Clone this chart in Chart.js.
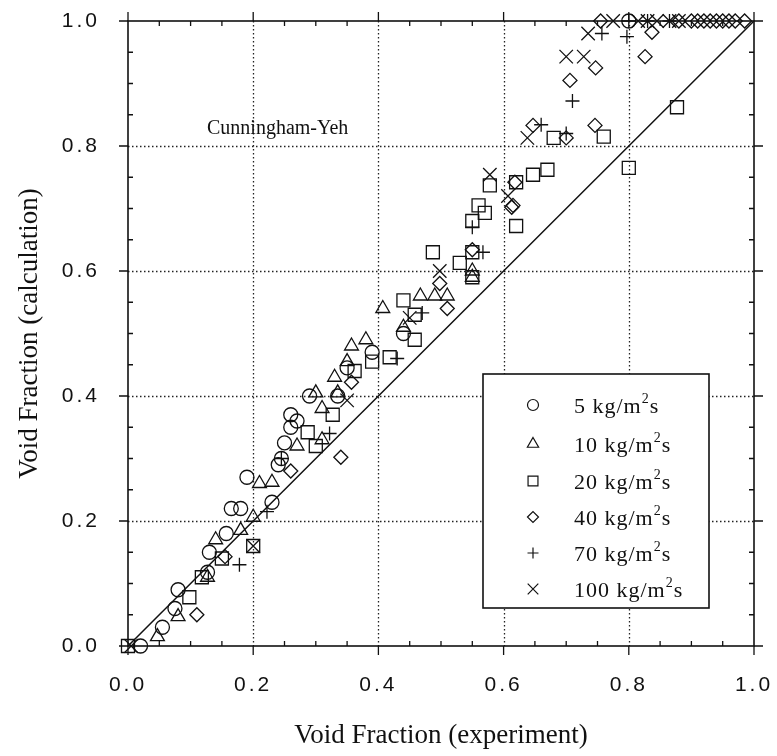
<!DOCTYPE html>
<html>
<head>
<meta charset="utf-8">
<script src="https://cdn.jsdelivr.net/npm/chart.js@4.4.0/dist/chart.umd.min.js"></script>
<style>
  html, body { margin: 0; padding: 0; background: #fff; }
</style>
</head>
<body>
<canvas id="voidChart" width="777" height="756"></canvas>
<script>
// measured vs. calculated void fraction, one list of [experiment, calculation] per mass flux
const flux5 = [[0.02,0.0],[0.055,0.03],[0.075,0.06],[0.08,0.09],[0.127,0.118],[0.13,0.15],[0.157,0.18],
  [0.165,0.22],[0.18,0.22],[0.19,0.27],[0.23,0.23],[0.24,0.29],[0.245,0.30],[0.25,0.325],[0.26,0.35],
  [0.26,0.37],[0.27,0.36],[0.29,0.40],[0.335,0.40],[0.35,0.445],[0.39,0.47],[0.44,0.50],[0.80,1.0]];
const flux10 = [[0.047,0.015],[0.08,0.047],[0.127,0.11],[0.14,0.17],[0.18,0.185],[0.20,0.206],[0.21,0.26],
  [0.23,0.262],[0.27,0.32],[0.30,0.405],[0.31,0.38],[0.31,0.33],[0.33,0.43],[0.335,0.405],[0.35,0.455],
  [0.357,0.48],[0.38,0.49],[0.407,0.54],[0.44,0.51],[0.467,0.56],[0.49,0.56],[0.51,0.56],[0.55,0.59],[0.55,0.60]];
const flux20 = [[0.0,0.0],[0.098,0.078],[0.118,0.11],[0.15,0.14],[0.20,0.16],[0.287,0.342],[0.30,0.32],
  [0.327,0.37],[0.362,0.44],[0.39,0.455],[0.418,0.462],[0.44,0.553],[0.458,0.53],[0.458,0.49],[0.487,0.63],
  [0.53,0.613],[0.55,0.59],[0.55,0.63],[0.55,0.68],[0.56,0.705],[0.57,0.693],[0.578,0.737],[0.62,0.672],
  [0.62,0.742],[0.647,0.754],[0.67,0.762],[0.68,0.813],[0.76,0.815],[0.80,0.765],[0.877,0.862]];
const flux40 = [[0.11,0.05],[0.155,0.143],[0.26,0.28],[0.34,0.302],[0.357,0.422],[0.498,0.58],[0.51,0.54],
  [0.55,0.634],[0.615,0.705],[0.613,0.702],[0.618,0.742],[0.647,0.833],[0.70,0.813],[0.706,0.905],
  [0.746,0.833],[0.747,0.925],[0.755,1.0],[0.826,0.943],[0.837,0.982],[0.88,1.0],[0.90,1.0],[0.91,1.0],
  [0.92,1.0],[0.93,1.0],[0.94,1.0],[0.95,1.0],[0.96,1.0],[0.97,1.0],[0.985,1.0]];
const flux70 = [[0.178,0.13],[0.222,0.215],[0.245,0.30],[0.322,0.34],[0.43,0.46],[0.47,0.533],[0.55,0.67],
  [0.567,0.63],[0.66,0.834],[0.70,0.82],[0.71,0.872],[0.757,0.98],[0.797,0.975],[0.80,1.0],[0.83,1.0],[0.865,1.0]];
const flux100 = [[0.005,0.0],[0.20,0.16],[0.35,0.393],[0.45,0.525],[0.498,0.60],[0.578,0.754],[0.607,0.72],
  [0.638,0.813],[0.70,0.943],[0.728,0.943],[0.735,0.98],[0.775,1.0],[0.815,1.0],[0.83,1.0],[0.845,1.0],
  [0.865,1.0],[0.88,1.0]];

const fluxLabels = ['5', '10', '20', '40', '70', '100'];
const parityLine = [[0, 0], [1, 1]];
const gridValues = [0.2, 0.4, 0.6, 0.8];

const seriesData = [flux5, flux10, flux20, flux40, flux70, flux100];
const markerStyles = ['circle', 'triangle', 'rect', 'rectRot', 'cross', 'crossRot'];
const markerSizes = [7, 8, 9.2, 7, 7, 9.5];
const legendSizes = [5.5, 6.5, 7, 5.5, 5.5, 7.5];

const ink = '#111';

const toPoints = arr => arr.map(p => ({ x: p[0], y: p[1] }));

const datasets = seriesData.map((arr, i) => ({
    type: 'scatter',
    label: fluxLabels[i] + ' kg/m2s',
    data: toPoints(arr),
    pointStyle: markerStyles[i],
    pointRadius: markerSizes[i],
    pointHoverRadius: markerSizes[i],
    pointBackgroundColor: 'rgba(0,0,0,0)',
    pointBorderColor: ink,
    pointBorderWidth: 1.3,
    clip: false
}));

datasets.unshift({
    type: 'line',
    label: 'y = x',
    data: toPoints(parityLine),
    borderColor: ink,
    borderWidth: 1.5,
    pointRadius: 0,
    fill: false,
    clip: false
});

// dotted grid, box frame and tick marks
const framePlugin = {
    id: 'frame',
    beforeDraw(chart) {
        chart.ctx.letterSpacing = '3px';
    },
    beforeDatasetsDraw(chart) {
        const ctx = chart.ctx;
        ctx.letterSpacing = '0px';
        const { left, right, top, bottom } = chart.chartArea;
        const xs = chart.scales.x, ys = chart.scales.y;
        ctx.save();
        ctx.strokeStyle = '#222';
        ctx.lineWidth = 1.3;
        ctx.setLineDash([1.5, 2.5]);
        gridValues.forEach(v => {
            const px = Math.round(xs.getPixelForValue(v)) + 0.5;
            const py = Math.round(ys.getPixelForValue(v)) + 0.5;
            ctx.beginPath();
            ctx.moveTo(px, top); ctx.lineTo(px, bottom);
            ctx.moveTo(left, py); ctx.lineTo(right, py);
            ctx.stroke();
        });
        ctx.setLineDash([]);
        ctx.strokeStyle = ink;
        ctx.lineWidth = 1.6;
        ctx.strokeRect(left, top, right - left, bottom - top);
        ctx.lineWidth = 1.3;
        ctx.beginPath();
        for (let i = 0; i <= 20; i++) {
            const v = i * 0.05;
            const px = xs.getPixelForValue(v), py = ys.getPixelForValue(v);
            if (i % 4 === 0) {
                const t = 9;
                ctx.moveTo(px, bottom); ctx.lineTo(px, bottom + t);
                ctx.moveTo(px, top); ctx.lineTo(px, top - t);
                ctx.moveTo(left, py); ctx.lineTo(left - t, py);
                ctx.moveTo(right, py); ctx.lineTo(right + t, py);
            } else {
                const t = 5;
                ctx.moveTo(px, bottom); ctx.lineTo(px, bottom - t);
                ctx.moveTo(px, top); ctx.lineTo(px, top + t);
                ctx.moveTo(left, py); ctx.lineTo(left + t, py);
                ctx.moveTo(right, py); ctx.lineTo(right - t, py);
            }
        }
        ctx.stroke();
        ctx.restore();
    },
    afterDatasetsDraw(chart) {
        const ctx = chart.ctx;
        const { left, right, top, bottom } = chart.chartArea;
        ctx.save();
        ctx.fillStyle = ink;

        // axis titles
        ctx.font = '27px "Liberation Serif", serif';
        ctx.textAlign = 'center';
        ctx.textBaseline = 'alphabetic';
        ctx.fillText('Void Fraction (experiment)', (left + right) / 2, 743);
        ctx.save();
        ctx.translate(37, (top + bottom) / 2);
        ctx.rotate(-Math.PI / 2);
        ctx.fillText('Void Fraction (calculation)', 0, 0);
        ctx.restore();

        // correlation name
        ctx.textAlign = 'left';
        ctx.font = '20px "Liberation Serif", serif';
        ctx.fillText('Cunningham-Yeh', 207, 134);

        // legend box
        const bx = 483, by = 374, bw = 226, bh = 234;
        ctx.fillStyle = '#fff';
        ctx.fillRect(bx, by, bw, bh);
        ctx.strokeStyle = ink;
        ctx.lineWidth = 1.6;
        ctx.strokeRect(bx, by, bw, bh);
        const rows = [405, 444, 481, 517, 553, 589];
        fluxLabels.forEach((lab, i) => {
            const cy = rows[i];
            ctx.fillStyle = 'rgba(0,0,0,0)';
            ctx.strokeStyle = ink;
            ctx.lineWidth = 1.2;
            Chart.helpers.drawPoint(ctx, {
                pointStyle: markerStyles[i], rotation: 0,
                radius: legendSizes[i], borderWidth: 1.2
            }, 533, cy);
            ctx.fillStyle = ink;
            ctx.letterSpacing = '1px';
            ctx.font = '22px "Liberation Serif", serif';
            let x = 574;
            const base = cy + 8;
            const main = lab + ' kg/m';
            ctx.fillText(main, x, base);
            x += ctx.measureText(main).width;
            ctx.font = '14px "Liberation Serif", serif';
            ctx.fillText('2', x, base - 10);
            x += ctx.measureText('2').width;
            ctx.font = '22px "Liberation Serif", serif';
            ctx.fillText('s', x, base);
            ctx.letterSpacing = '0px';
        });
        ctx.restore();
    }
};

const tickFont = { family: '"Liberation Sans", Arial, sans-serif', size: 21 };

new Chart(document.getElementById('voidChart'), {
    data: { datasets: datasets },
    options: {
        responsive: false,
        animation: false,
        events: [],
        layout: { padding: { left: 0, right: 23, top: 21, bottom: 0 } },
        plugins: {
            legend: { display: false },
            tooltip: { enabled: false }
        },
        scales: {
            x: {
                type: 'linear',
                min: 0, max: 1,
                grid: { display: false },
                border: { display: false },
                ticks: {
                    stepSize: 0.2,
                    color: ink,
                    font: tickFont,
                    padding: 19,
                    maxRotation: 0,
                    callback: v => v.toFixed(1)
                },
                afterFit: s => { s.height = 110; s.paddingLeft = 0; s.paddingRight = 0; }
            },
            y: {
                type: 'linear',
                min: 0, max: 1,
                grid: { display: false },
                border: { display: false },
                ticks: {
                    stepSize: 0.2,
                    color: ink,
                    font: tickFont,
                    padding: 20,
                    callback: v => v.toFixed(1)
                },
                afterFit: s => { s.width = 128; s.paddingTop = 0; s.paddingBottom = 0; }
            }
        }
    },
    plugins: [framePlugin]
});
</script>
</body>
</html>
